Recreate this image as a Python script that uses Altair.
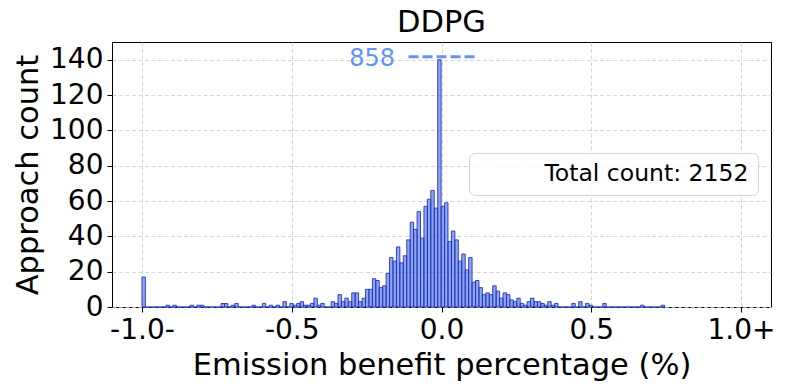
import altair as alt
import numpy as np
import pandas as pd

# ---------------- data ----------------
title_text = "DDPG"
x_title = "Emission benefit percentage (%)"
y_title = "Approach count"

hist_min = -1.0
hist_max = 0.745
counts = [
    17, 0, 0, 0, 0, 0, 0, 1, 0, 1,
    0, 0, 0, 0, 1, 0, 1, 1, 0, 0,
    0, 0, 0, 2, 2, 0, 1, 2, 0, 0,
    0, 0, 1, 0, 0, 2, 0, 1, 0, 1,
    0, 3, 0, 2, 1, 2, 3, 1, 1, 2,
    5, 1, 2, 0, 0, 3, 2, 7, 3, 5,
    3, 8, 8, 3, 5, 10, 10, 16, 15, 11,
    12, 19, 28, 26, 34, 25, 29, 38, 48, 44,
    54, 39, 57, 61, 66, 56, 858, 57, 59, 37,
    43, 38, 26, 30, 21, 28, 14, 15, 11, 7,
    8, 7, 12, 9, 5, 8, 7, 4, 3, 5,
    2, 1, 3, 5, 3, 3, 2, 1, 3, 1,
    2, 0, 0, 0, 0, 2, 0, 3, 0, 2,
    1, 0, 0, 0, 2, 0, 0, 0, 0, 0,
    0, 0, 0, 0, 0, 1, 0, 0, 0, 0,
    0, 1,
]
bar_cap = 140
peak_label = ["858"]
peak_line_x = [-0.11, 0.1125]
peak_line_y = [141.7]
peak_text_x = [-0.155]

x_ticks = [-1.0, -0.5, 0.0, 0.5, 1.0]
x_tick_labels = ["-1.0-", "-0.5", "0.0", "0.5", "1.0+"]
y_ticks = [0, 20, 40, 60, 80, 100, 120, 140]
x_domain = [-1.1, 1.1]
y_domain = [0, 150]
total_label = [f"Total count: {sum(counts)}"]

# ---------------- tables ----------------
edges = np.linspace(hist_min, hist_max, len(counts) + 1)
bars_df = pd.DataFrame({"lo": edges[:-1], "hi": edges[1:], "count": counts})
rule_df = pd.DataFrame({"lo": [peak_line_x[0]], "hi": [peak_line_x[1]], "shown": peak_line_y})
text_df = pd.DataFrame({"lo": peak_text_x, "shown": peak_line_y, "label": peak_label})
legend_df = pd.DataFrame({"legend": total_label})

label_expr = " : ".join(
    f"datum.value == {v} ? '{l}'" for v, l in zip(x_ticks, x_tick_labels)
) + " : ''"

FONT = "DejaVu Sans"
x_scale = alt.Scale(domain=x_domain, nice=False, zero=False)
y_scale = alt.Scale(domain=y_domain, nice=False)

x_axis = alt.Axis(values=x_ticks, labelExpr=label_expr, title=x_title,
                  labelFlush=False, labelOverlap=False, labelPadding=4,
                  titlePadding=6)
y_axis = alt.Axis(values=y_ticks, title=y_title, labelPadding=4, titlePadding=6)

X = alt.X("lo:Q", scale=x_scale, axis=x_axis)
Y = alt.Y("shown:Q", scale=y_scale, axis=y_axis)

bars = alt.Chart(bars_df).transform_calculate(
    shown=f"min(datum.count, {bar_cap})"
).mark_rect(
    fill="#4169E1", fillOpacity=0.6, stroke="#1e2fc0", strokeOpacity=0.85, strokeWidth=1
).encode(
    x=X,
    x2="hi:Q",
    y=Y,
    y2=alt.datum(0),
)

rule = alt.Chart(rule_df).mark_rule(
    color="#6495ED", strokeWidth=3, strokeDash=[10, 4]
).encode(
    x=X,
    x2="hi:Q",
    y=Y,
)

text = alt.Chart(text_df).mark_text(
    align="right", baseline="middle", fontSize=24, color="#6495ED", font=FONT, dy=2
).encode(
    x=X,
    y=Y,
    text="label:N",
)

legend_layer = alt.Chart(legend_df).mark_point(opacity=0).encode(
    color=alt.Color(
        "legend:N",
        scale=alt.Scale(range=["#ffffff"]),
        legend=alt.Legend(
            title=None, orient="none", legendX=357, legendY=111,
            labelFontSize=23.5, labelFont=FONT, labelColor="black", labelLimit=500,
            symbolOpacity=0, symbolSize=64, labelOffset=43, padding=9,
            strokeColor="#d4d4d4", cornerRadius=6, fillColor="rgba(255,255,255,0.8)",
        ),
    )
)

chart = alt.layer(bars, rule, text, legend_layer).properties(
    width=659,
    height=265,
    title=alt.Title(text=title_text, fontSize=30.5, font=FONT, fontWeight="normal",
                    color="black", offset=4, anchor="middle"),
    autosize=alt.AutoSizeParams(type="none"),
    padding={"left": 104, "top": 34, "right": 9, "bottom": 75},
).configure_view(
    stroke="black", strokeWidth=1
).configure_axis(
    domain=False,
    labelFont=FONT, labelFontSize=28, labelColor="black",
    titleFont=FONT, titleFontSize=30.5, titleFontWeight="normal", titleColor="black",
    tickColor="black", tickSize=5, tickWidth=1,
    grid=True, gridColor="#cccccc", gridDash=[4, 2.5], gridWidth=0.8,
)

chart.save("out.html", embed_options={"renderer": "svg", "actions": False})
